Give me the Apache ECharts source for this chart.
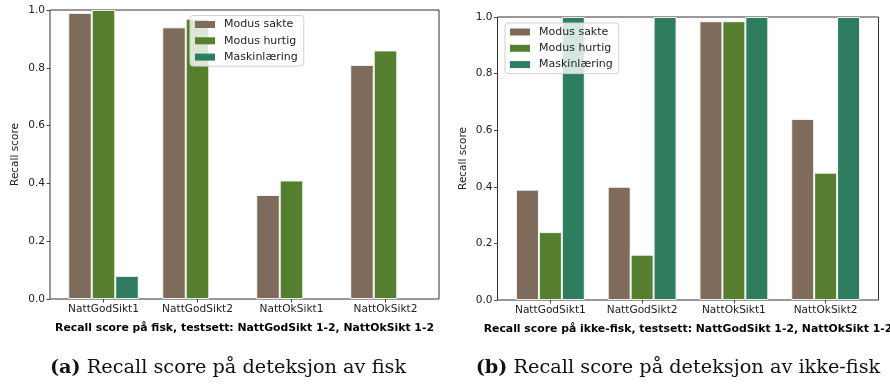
<!DOCTYPE html>
<html>
<head>
<meta charset="utf-8">
<script src="https://cdn.jsdelivr.net/npm/echarts@6/dist/echarts.min.js"></script>
<style>
html,body{margin:0;padding:0;background:#fff;}
#main{width:890px;height:385px;}
</style>
</head>
<body>
<div id="main"></div>
<script>
const categories = ['NattGodSikt1', 'NattGodSikt2', 'NattOkSikt1', 'NattOkSikt2'];
const seriesNames = ['Modus sakte', 'Modus hurtig', 'Maskinlæring'];
const fiskSakte = [0.99, 0.94, 0.36, 0.81];
const fiskHurtig = [1.0, 0.97, 0.41, 0.86];
const fiskML = [0.08, 0, 0, 0];
const ikkeSakte = [0.39, 0.40, 0.985, 0.64];
const ikkeHurtig = [0.24, 0.16, 0.985, 0.45];
const ikkeML = [1.0, 1.0, 1.0, 1.0];
const yTickLabels = ['0.0', '0.2', '0.4', '0.6', '0.8', '1.0'];
const xTitleLeft = 'Recall score på fisk, testsett: NattGodSikt 1-2, NattOkSikt 1-2';
const xTitleRight = 'Recall score på ikke-fisk, testsett: NattGodSikt 1-2, NattOkSikt 1-2';
const yTitle = 'Recall score';
const captionA = ['(a)', 'Recall score på deteksjon av fisk'];
const captionB = ['(b)', 'Recall score på deteksjon av ikke-fisk'];

const colors = ['#7f6b5c', '#557e2e', '#2e7d5e'];
const FONT = 'DejaVu Sans';
const TXT = '#222';

const chart = echarts.init(document.getElementById('main'), null, {renderer: 'canvas'});

function mkData(arr) {
  return arr.map(v => v === 0
    ? {value: 0, itemStyle: {borderWidth: 0}}
    : v);
}

function mkSeries(vals, axisIdx) {
  return vals.map((arr, i) => ({
    name: seriesNames[i],
    type: 'bar',
    xAxisIndex: axisIdx,
    yAxisIndex: axisIdx,
    data: mkData(arr),
    barGap: '0%',
    barCategoryGap: '25%',
    itemStyle: {color: colors[i], borderColor: 'rgba(255,255,255,0.85)', borderWidth: 1},
    emphasis: {disabled: true},
    animation: false
  }));
}

function frameAxes(gridIdx) {
  return {
    x: {type: 'value', gridIndex: gridIdx, show: false, min: 0, max: 1},
    y: {type: 'value', gridIndex: gridIdx, show: false, min: 0, max: 1}
  };
}

function dataX(gridIdx, name, nameGap, fs) {
  return {
    type: 'category', gridIndex: gridIdx, data: categories,
    axisLine: {show: false},
    axisTick: {show: true, alignWithLabel: true, interval: 0, length: 3.5, lineStyle: {color: '#333', width: 0.9}},
    axisLabel: {color: TXT, fontFamily: FONT, fontSize: 10.6, margin: 5, interval: 0},
    name: name, nameLocation: 'middle', nameGap: nameGap,
    nameTextStyle: {color: '#000', fontFamily: FONT, fontSize: fs, fontWeight: 'bold'}
  };
}

function dataY(gridIdx, offset) {
  return {
    type: 'value', gridIndex: gridIdx, min: 0, max: 1, interval: 0.2,
    offset: offset,
    axisLine: {show: false},
    splitLine: {show: false},
    axisTick: {show: true, length: 3.5, lineStyle: {color: '#333', width: 0.9}},
    axisLabel: {color: TXT, fontFamily: FONT, fontSize: 10.6, margin: 5,
      formatter: (v) => yTickLabels[Math.round(v / 0.2)]},
    name: yTitle, nameLocation: 'middle', nameRotate: 90, nameGap: 29,
    nameTextStyle: {color: TXT, fontFamily: FONT, fontSize: 10.5}
  };
}

function mkLegend(left, top) {
  return {
    data: seriesNames, orient: 'vertical', left: left, top: top,
    icon: 'rect', itemWidth: 20, itemHeight: 7, itemGap: 3.3,
    padding: [2.5, 6, 2.5, 5],
    backgroundColor: 'rgba(255,255,255,0.8)', borderColor: '#d0d0d0', borderWidth: 1, borderRadius: 3,
    itemStyle: {borderWidth: 0},
    textStyle: {fontFamily: FONT, fontSize: 11, color: TXT, lineHeight: 13, padding: [0, 0, 0, 4]},
    selectedMode: false
  };
}

function mkCaption(parts, cx) {
  return {
    text: '{b|' + parts[0] + '} ' + parts[1],
    left: cx, top: 353, textAlign: 'center',
    textStyle: {fontFamily: 'DejaVu Serif', fontSize: 19.3, fontWeight: 'normal', color: '#111',
      rich: {b: {fontFamily: 'DejaVu Serif', fontSize: 19.3, fontWeight: 'bold', color: '#111'}}}
  };
}

const fL = frameAxes(0), fR = frameAxes(2);
const gridBase = {outerBoundsMode: 'none', containLabel: false};

const option = {
  backgroundColor: '#fff',
  animation: false,
  title: [mkCaption(captionA, 223), mkCaption(captionB, 673)],
  legend: [mkLegend(190, 15.5), mkLegend(505, 23)],
  grid: [
    Object.assign({left: 50, top: 10, width: 389, height: 289, show: true, borderColor: '#333', borderWidth: 1, backgroundColor: 'transparent'}, gridBase),
    Object.assign({left: 56.5, top: 10, width: 376, height: 289}, gridBase),
    Object.assign({left: 497.5, top: 17, width: 381, height: 283, show: true, borderColor: '#333', borderWidth: 1, backgroundColor: 'transparent'}, gridBase),
    Object.assign({left: 504.5, top: 17, width: 367, height: 283}, gridBase)
  ],
  xAxis: [fL.x, dataX(1, xTitleLeft, 24, 10.85), fR.x, dataX(3, xTitleRight, 24, 10.85)],
  yAxis: [fL.y, dataY(1, 6.5), fR.y, dataY(3, 7)],
  series: [].concat(
    mkSeries([fiskSakte, fiskHurtig, fiskML], 1),
    mkSeries([ikkeSakte, ikkeHurtig, ikkeML], 3)
  )
};

chart.setOption(option);
</script>
</body>
</html>
